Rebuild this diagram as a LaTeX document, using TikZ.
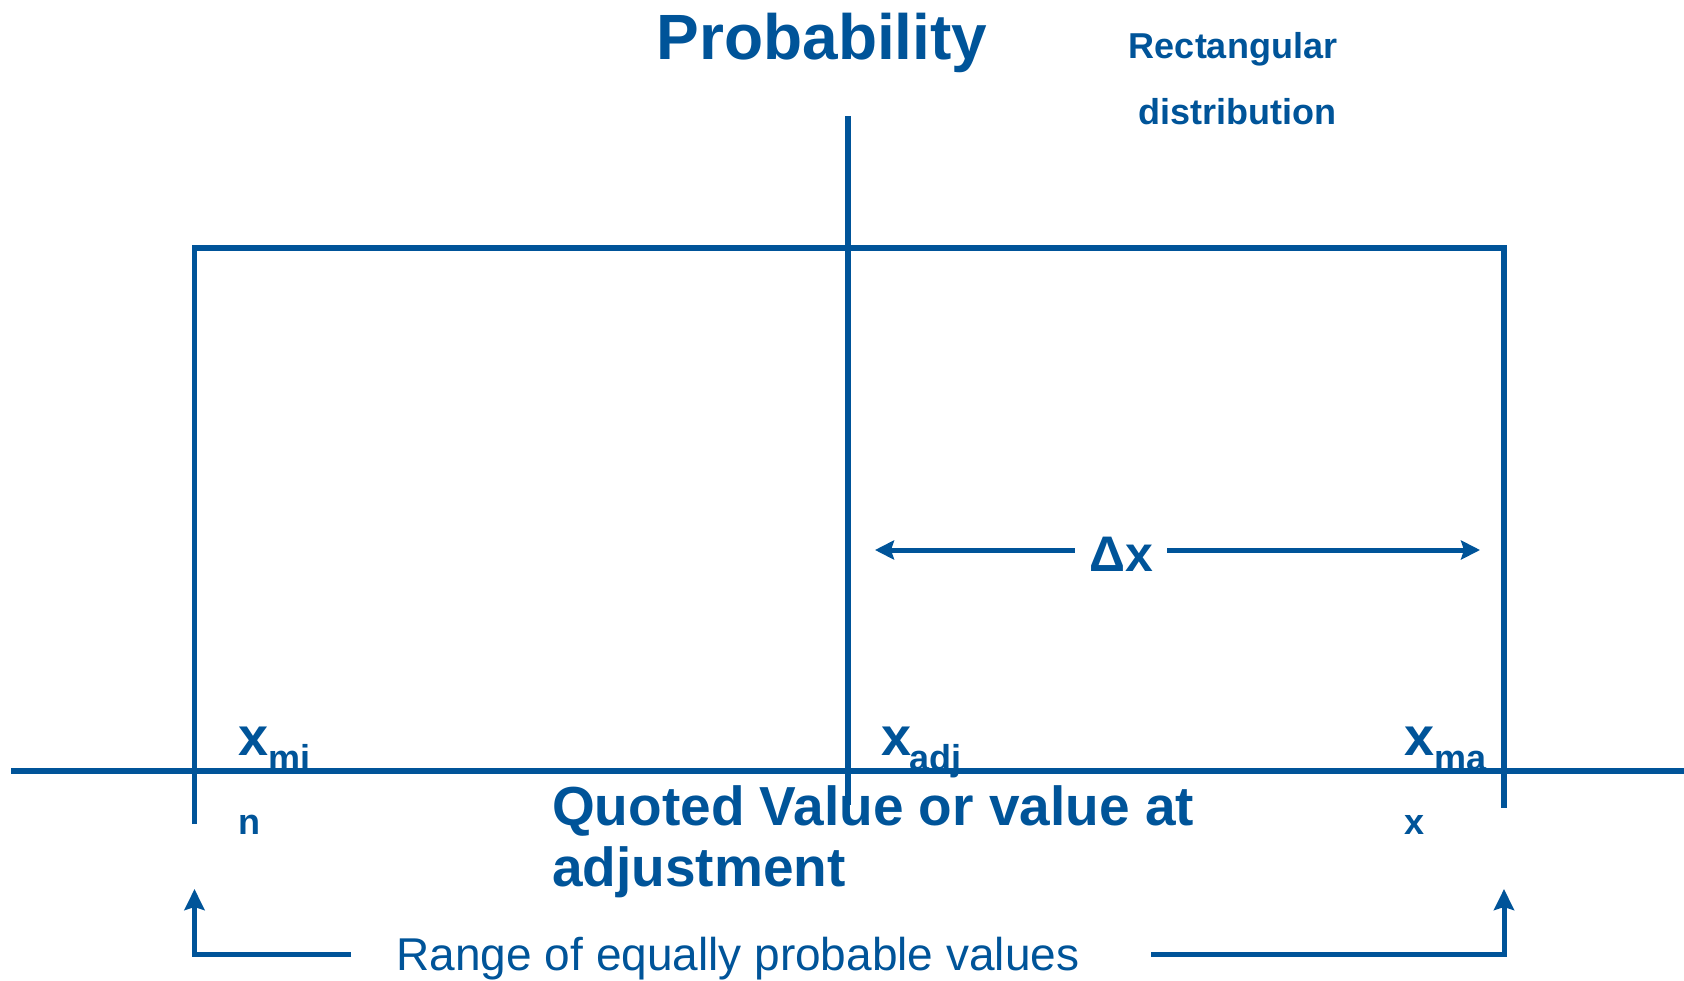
\documentclass[tikz,border=0pt]{standalone}
\usepackage{fontspec}
\setmainfont{Liberation Sans}
\usetikzlibrary{arrows.meta}
\definecolor{rectblue}{RGB}{0,84,153}
\newcommand{\fsz}[1]{\fontsize{#1}{#1}\selectfont}

\begin{document}
\begin{tikzpicture}[x=1pt,y=-1pt,
  axis/.style={rectblue, line width=6.5pt},
  edge/.style={rectblue, line width=5.5pt, line join=miter},
  span/.style={rectblue, line width=5pt},
  lbl/.style={text=rectblue, inner sep=0pt, font=\bfseries}]
\useasboundingbox (0,0) rectangle (1684,980);
% axes
\coordinate (axL) at (11,771);
\coordinate (axR) at (1684,771);
\coordinate (pTop) at (848,116);
\coordinate (pBot) at (848,805);
\draw[axis] (axL) -- (axR);
\draw[span, line width=6pt] (pTop) -- (pBot);
% the rectangle
\coordinate (rBL) at (194.5,824);
\coordinate (rTL) at (194.5,248);
\coordinate (rTR) at (1504,248);
\coordinate (rBR) at (1504,808);
\draw[edge] (rBL) -- (rTL) -- (rTR) -- (rBR);
% titles
\node[lbl, anchor=base] (prob) at (822,59) {\fsz{64}Probability};
\node[lbl, anchor=base] (rect1) at (1233,58) {\fsz{36}Rectangular};
\node[lbl, anchor=base] (rect2) at (1237,124) {\fsz{36}distribution};
% half width
\coordinate (dxL) at (875,550);
\coordinate (dxR) at (1480,550);
\node[lbl, anchor=base, inner xsep=14pt] (dx) at (1121,571) {\fsz{50}Δx};
\draw[span, -{Stealth[length=19pt,width=19pt,inset=3pt]}] (dx.west |- dxL) -- (dxL);
\draw[span, -{Stealth[length=19pt,width=19pt,inset=3pt]}] (dx.east |- dxR) -- (dxR);
% labels on the axis
\node[lbl, anchor=base west] (xmin) at (238,755) {\fsz{54}x};
\node[lbl, anchor=base west] (xminsub) at (268,770) {\fsz{36}mi};
\node[lbl, anchor=base west] (xminrest) at (238,834) {\fsz{36}n};
\node[lbl, anchor=base west] (xadj) at (881,755) {\fsz{54}x};
\node[lbl, anchor=base west] (xadjsub) at (909,770) {\fsz{36}adj};
\node[lbl, anchor=base west] (xmax) at (1404,755) {\fsz{54}x};
\node[lbl, anchor=base west] (xmaxsub) at (1434,770) {\fsz{36}ma};
\node[lbl, anchor=base west] (xmaxrest) at (1404,834) {\fsz{36}x};
\node[lbl, anchor=base west, align=left] (quoted) at (552,886)
  {\fsz{55}Quoted Value or value at\\[9pt]\fsz{55}adjustment};
% range
\node[text=rectblue, inner sep=0pt, anchor=base] (range) at (738,970)
  {\fsz{46}Range of equally probable values};
\coordinate (rgL) at (351,954);
\coordinate (rgR) at (1151,954);
\coordinate (tipL) at (194.5,889);
\coordinate (tipR) at (1504,889);
\draw[span, -{Stealth[length=21pt,width=20pt,inset=3pt]}] (rgL) -| (tipL);
\draw[span, -{Stealth[length=21pt,width=20pt,inset=3pt]}] (rgR) -| (tipR);
\end{tikzpicture}
\end{document}
